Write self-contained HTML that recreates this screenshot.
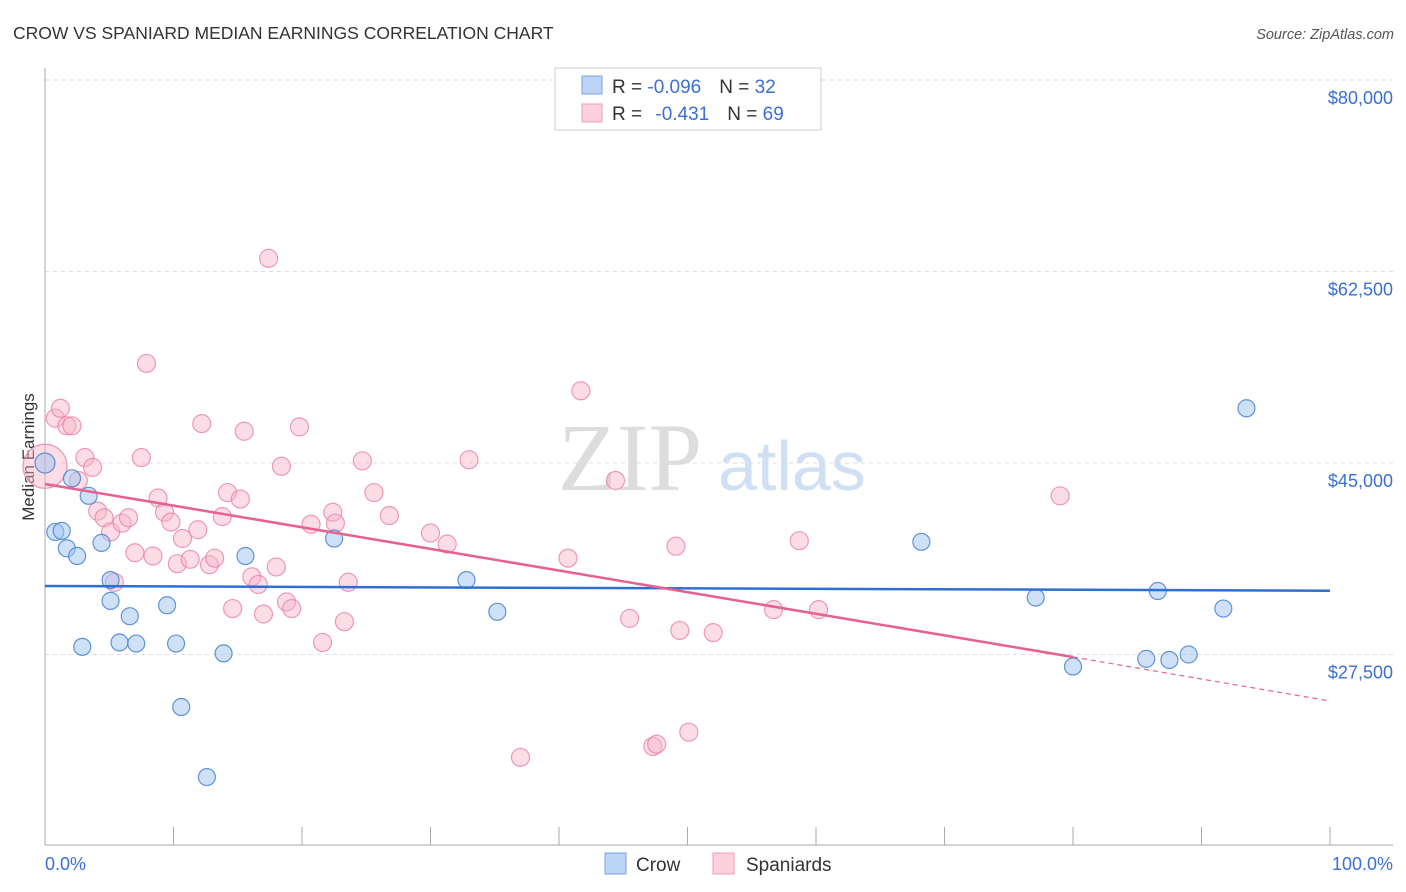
<!DOCTYPE html>
<html><head><meta charset="utf-8"><style>
body{margin:0;background:#fff;font-family:"Liberation Sans",sans-serif}
svg{display:block}
</style></head><body>
<svg width="1406" height="892" viewBox="0 0 1406 892">
<text x="13" y="39" font-size="17.5" fill="#333">CROW VS SPANIARD MEDIAN EARNINGS CORRELATION CHART</text>
<text x="1394" y="39" font-size="14.5" fill="#555" font-style="italic" text-anchor="end">Source: ZipAtlas.com</text>
<text x="558" y="490" font-size="96" fill="#ddd" font-family="Liberation Serif,serif">ZIP</text>
<text x="718" y="490" font-size="70" fill="#cfe0f5">atlas</text>
<g id="grid"></g>
<g id="axes"></g>
<text transform="translate(34,457) rotate(-90)" font-size="17" fill="#333" text-anchor="middle">Median Earnings</text>
<text x="45" y="870" font-size="18" fill="#3b6fd4">0.0%</text>
<text x="1393" y="870" font-size="18" fill="#3b6fd4" text-anchor="end">100.0%</text>
<g id="pts"></g>
<g id="lines"></g>
<g>
<rect x="555" y="68" width="266" height="62" fill="#fff" stroke="#ccc"/>
<rect x="582" y="76" width="20" height="18" fill="#bcd4f5" stroke="#7aa3e0"/>
<rect x="582" y="104" width="20" height="18" fill="#fcd0dd" stroke="#eaa0b8"/>
<text x="612" y="93" font-size="19" fill="#333">R = <tspan fill="#3b6fd4">-0.096</tspan><tspan dx="18">N = </tspan><tspan fill="#3b6fd4">32</tspan></text>
<text x="612" y="120" font-size="19" fill="#333">R = <tspan fill="#3b6fd4" dx="8">-0.431</tspan><tspan dx="18">N = </tspan><tspan fill="#3b6fd4">69</tspan></text>
</g>
<g>
<rect x="605" y="853" width="21" height="21" fill="#bcd4f5" stroke="#7aa3e0"/>
<text x="636" y="871" font-size="19" fill="#333">Crow</text>
<rect x="713" y="853" width="21" height="21" fill="#fcd0dd" stroke="#eaa0b8"/>
<text x="746" y="871" font-size="19" fill="#333">Spaniards</text>
</g>
</svg>
<script>
const yTicks=[80000,62500,45000,27500];
const yTickLabels=["$80,000","$62,500","$45,000","$27,500"];
const crowX=[0,0.8,1.3,1.7,2.1,2.5,2.9,3.4,4.4,5.1,5.1,5.8,6.6,7.1,9.5,10.2,10.6,12.6,13.9,15.6,22.5,32.8,35.2,68.2,77.1,80.0,85.7,86.6,87.5,89.0,91.7,93.5];
const crowY=[45000,38700,38800,37200,43600,36500,28200,42000,37700,34300,32400,28600,31000,28500,32000,28500,22700,16300,27600,36500,38100,34300,31400,37800,32700,26400,27100,33300,27000,27500,31700,50000];
const spanX=[0,0.8,1.2,1.7,2.1,2.6,3.1,3.7,4.1,4.6,5.1,5.4,6.0,6.5,7.0,7.5,7.9,8.4,8.8,9.3,9.8,10.3,10.7,11.3,11.9,12.2,12.8,13.2,13.8,14.2,14.6,15.2,15.5,16.1,16.6,17.0,17.4,18.0,18.4,18.8,19.2,19.8,20.7,21.6,22.4,22.6,23.3,23.6,24.7,25.6,26.8,30.0,31.3,33.0,37.0,40.7,41.7,44.4,45.5,47.3,47.6,49.1,49.4,50.1,52.0,56.7,58.7,60.2,79.0];
const spanY=[44700,49100,50000,48400,48400,43400,45500,44600,40600,40000,38700,34100,39500,40000,36800,45500,54100,36500,41800,40500,39600,35800,38100,36200,38900,48600,35700,36300,40100,42300,31700,41700,47900,34600,33900,31200,63700,35500,44700,32300,31700,48300,39400,28600,40500,39500,30500,34100,45200,42300,40200,38600,37600,45300,18100,36300,51600,43400,30800,19100,19300,37400,29700,20400,29500,31600,37900,31600,42000];
const crowTrend=[33760,33330];
const spanTrend=[43080,27270,23250];
const NS="http://www.w3.org/2000/svg";
function X(p){return 45+p*12.85;}
function Y(v){return 463-(v-45000)*191.5/17500;}
function mk(tag,attrs,parent){const e=document.createElementNS(NS,tag);for(const k in attrs)e.setAttribute(k,attrs[k]);document.getElementById(parent).appendChild(e);return e;}
yTicks.forEach((t,i)=>{
 const l=mk('line',{x1:45,x2:1393,y1:Y(t),y2:Y(t),stroke:'#ddd','stroke-dasharray':'4 4'},'grid');
 
 
 const tx=mk('text',{x:1393,y:Y(t)+24,'font-size':18,fill:'#3b6fd4','text-anchor':'end'},'grid');
 tx.textContent=yTickLabels[i];
 
 
});
let a=mk('line',{x1:45,x2:45,y1:68,y2:845,stroke:'#aaa'},'axes');


a=mk('line',{x1:45,x2:1393,y1:845,y2:845,stroke:'#aaa'},'axes');


for(let i=0;i<=10;i++){
 const t=mk('line',{x1:X(i*10),x2:X(i*10),y1:827,y2:845,stroke:'#aaa'},'axes');
 
 
}
spanX.forEach((x,i)=>{
 const c=mk('circle',{cx:X(x),cy:Y(spanY[i]),r:i==0?22:9,fill:'rgba(248,180,200,0.45)',stroke:'rgba(232,130,165,0.8)','stroke-width':1.2},'pts');
 
 
});
crowX.forEach((x,i)=>{
 const c=mk('circle',{cx:X(x),cy:Y(crowY[i]),r:i==0?10:8.5,fill:'rgba(160,195,240,0.5)',stroke:'rgba(70,130,210,0.85)','stroke-width':1.2},'pts');
 
 
});
let l=mk('line',{x1:X(0),y1:Y(crowTrend[0]),x2:X(100),y2:Y(crowTrend[1]),stroke:'#2f6fd0','stroke-width':2.5},'lines');


l=mk('line',{x1:X(0),y1:Y(spanTrend[0]),x2:X(80),y2:Y(spanTrend[1]),stroke:'#e8608e','stroke-width':2.5},'lines');


l=mk('line',{x1:X(80),y1:Y(spanTrend[1]),x2:X(100),y2:Y(spanTrend[2]),stroke:'#e8608e','stroke-width':1.2,'stroke-dasharray':'5 4'},'lines');


</script>
</body></html>
